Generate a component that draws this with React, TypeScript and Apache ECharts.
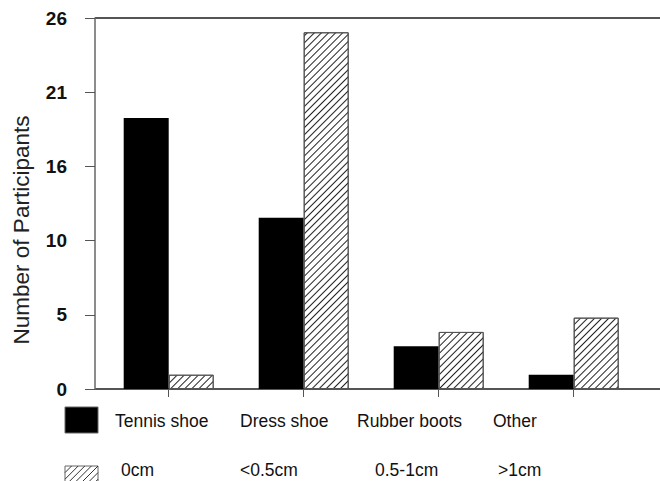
import React, { useEffect, useRef } from "react";
import * as echarts from "echarts";

const categories = ["Tennis shoe", "Dress shoe", "Rubber boots", "Other"];
const shoeCounts = [19, 12, 3, 1];
const depthCounts = [1, 25, 4, 5];
const legendRow1 = ["Tennis shoe", "Dress shoe", "Rubber boots", "Other"];
const legendRow2 = ["0cm", "<0.5cm", "0.5-1cm", ">1cm"];
const yMax = 26;
const yStep = 5.2;

const W = 660;
const H = 481;
const GRID_LEFT = 101.2;
const GRID_TOP = 18;
const GRID_W = 540;
const GRID_H = 371;
const AXIS_X = 95;

export default function App() {
  const ref = useRef<HTMLDivElement>(null);
  useEffect(() => {
    if (!ref.current) return;
    const chart = echarts.init(ref.current, undefined, { renderer: "svg" });
    const base = GRID_TOP + GRID_H;
    const font = "'Liberation Sans', Arial, sans-serif";

    const graphics: any[] = [
      { type: "line", shape: { x1: AXIS_X, y1: GRID_TOP, x2: W, y2: GRID_TOP }, style: { stroke: "#555", lineWidth: 2 } },
      { type: "line", shape: { x1: AXIS_X, y1: base, x2: W, y2: base }, style: { stroke: "#555", lineWidth: 2 } },
      { type: "rect", shape: { x: 65, y: 407, width: 33, height: 26 }, style: { fill: "#000", stroke: "#666", lineWidth: 1 } },
      { type: "rect", shape: { x: 65, y: 466, width: 33, height: 26 }, style: { fill: "#fff", stroke: "#666", lineWidth: 1 } },
    ];
    // hatch lines of the legend swatch
    const hx0 = 65, hx1 = 98, hy0 = 466, hy1 = 492, hh = hy1 - hy0;
    for (let c = hx0 - hh; c < hx1; c += 6.6) {
      const tmin = Math.max(0, hx0 - c);
      const tmax = Math.min(hh, hx1 - c);
      if (tmin < tmax) {
        graphics.push({
          type: "line",
          shape: { x1: c + tmin, y1: hy1 - tmin, x2: c + tmax, y2: hy1 - tmax },
          style: { stroke: "#333", lineWidth: 1 },
        });
      }
    }
    const row1X = [115, 240, 357, 493];
    const row2X = [121, 240, 375, 498];
    legendRow1.forEach((t, i) => {
      graphics.push({ type: "text", x: row1X[i], y: 421, style: { text: t, fontSize: 17.5, fontFamily: font, fill: "#111", verticalAlign: "middle", align: "left" } });
    });
    legendRow2.forEach((t, i) => {
      graphics.push({ type: "text", x: row2X[i], y: 470, style: { text: t, fontSize: 17.5, fontFamily: font, fill: "#111", verticalAlign: "middle", align: "left" } });
    });

    chart.setOption({
      animation: false,
      backgroundColor: "#fff",
      grid: { left: GRID_LEFT, top: GRID_TOP, width: GRID_W, height: GRID_H },
      xAxis: {
        type: "category",
        data: categories,
        axisLine: { show: false },
        axisTick: { show: true, alignWithLabel: true, length: 8, lineStyle: { color: "#555", width: 1 } },
        axisLabel: { show: false },
        splitLine: { show: false },
      },
      yAxis: {
        type: "value",
        min: 0,
        max: yMax,
        interval: yStep,
        offset: GRID_LEFT - AXIS_X,
        name: "Number of Participants",
        nameLocation: "middle",
        nameGap: 62,
        nameTextStyle: { fontSize: 22.5, fontFamily: font, color: "#222", padding: [0, 53, 0, 0] },
        axisLine: { show: true, lineStyle: { color: "#666", width: 1.5 } },
        axisTick: { show: true, length: 10, lineStyle: { color: "#555", width: 1 } },
        axisLabel: {
          margin: 28,
          fontSize: 19,
          fontWeight: "bold",
          fontFamily: font,
          color: "#111",
          padding: [9, 0, 0, 0],
          formatter: (v: number) => String(Math.round(v)),
        },
        splitLine: { show: false },
      },
      series: [
        {
          type: "bar",
          data: shoeCounts,
          barWidth: 45,
          barGap: "0%",
          itemStyle: { color: "#000" },
        },
        {
          type: "bar",
          data: depthCounts,
          barWidth: 45,
          barGap: "0%",
          itemStyle: {
            color: "#fff",
            borderColor: "#555",
            borderWidth: 1,
            decal: {
              symbol: "rect",
              symbolSize: 1,
              color: "#222",
              dashArrayX: [1, 0],
              dashArrayY: [1, 3.7],
              rotation: -Math.PI / 4,
            },
          },
        },
      ],
      graphic: graphics,
    });
    return () => chart.dispose();
  }, []);
  return <div ref={ref} style={{ position: "fixed", left: 0, top: 0, width: W, height: H }} />;
}
